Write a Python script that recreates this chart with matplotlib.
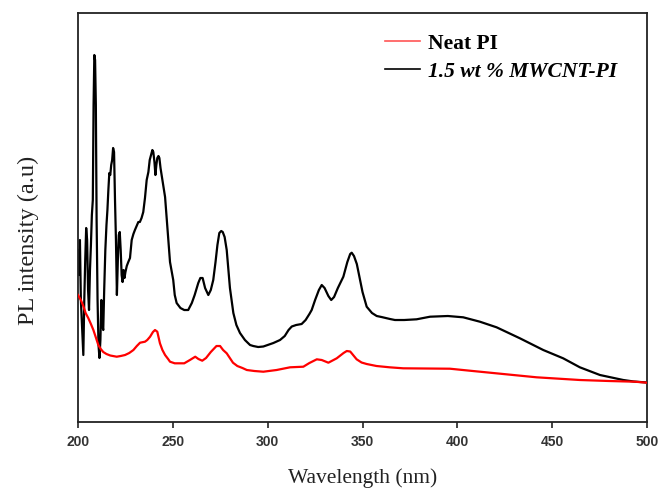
import matplotlib.pyplot as plt

# wavelength (nm) and PL intensity (a.u.)
wl_cnt = [200.0, 200.5, 201.0, 201.5, 202.2, 202.8, 203.3, 203.8, 204.3, 204.8,
          205.3, 205.8, 206.3, 206.8, 207.3, 207.8, 208.2, 208.6, 209.0, 209.4,
          209.8, 210.3, 210.8, 211.3, 211.8, 212.3, 212.8, 213.3, 213.8, 214.4,
          215.0, 215.5, 216.0, 216.5, 217.0, 217.5, 218.0, 218.5, 219.0, 219.5,
          220.0, 220.5, 221.0, 221.5, 222.0, 222.5, 223.0, 223.5, 224.0, 224.5,
          225.0, 225.7, 226.5, 227.4, 228.3, 229.2, 230.0, 230.9, 231.8, 232.6,
          233.5, 234.4, 235.3, 236.2, 237.1, 237.8, 238.5, 239.2, 239.7, 240.3,
          240.8, 241.3, 241.8, 242.4, 242.9, 243.5, 244.5, 245.9, 247.6, 248.5,
          250.2, 251.0, 252.0, 254.0, 256.0, 258.1, 260.0, 261.5, 263.4, 264.5,
          265.7, 267.0, 268.7, 270.0, 271.3, 272.5, 273.5, 274.5, 275.5, 276.3,
          277.3, 278.4, 280.1, 281.9, 283.5, 285.4, 288.0, 290.7, 292.4, 295.0,
          297.7, 300.0, 303.0, 306.5, 309.0, 311.0, 312.7, 315.0, 317.9, 320.0,
          322.0, 323.2, 325.0, 327.0, 328.5, 330.0, 332.0, 333.5, 335.0, 337.0,
          339.9, 342.0, 343.5, 344.3, 345.5, 347.0, 348.5, 350.0, 352.2, 355.0,
          357.5, 360.0, 364.5, 367.1, 372.0, 378.5, 385.6, 395.0, 403.1, 411.9,
          420.7, 433.0, 445.3, 455.8, 464.6, 475.2, 487.5, 493.0, 500.0]
pl_cnt = [172, 147, 182, 122, 92, 67, 122, 162, 194, 182,
          132, 112, 152, 177, 207, 222, 317, 367, 362, 317,
          202, 122, 77, 64, 82, 122, 97, 92, 132, 172,
          197, 212, 232, 249, 247, 257, 262, 274, 270, 222,
          182, 127, 162, 187, 190, 172, 147, 140, 152, 144,
          150, 156, 160, 164, 182, 188, 192, 196, 200, 200,
          204, 210, 224, 242, 250, 262, 267, 272, 270, 260,
          247, 257, 264, 266, 264, 254, 242, 225, 182, 160,
          142, 127, 119, 114, 112, 112, 119, 127, 139, 144,
          144, 134, 127, 132, 142, 160, 177, 189, 191, 190,
          185, 172, 134, 109, 97, 89, 82, 77, 76, 75,
          75.5, 77, 79, 82, 86, 92, 95.5, 97, 98, 102,
          108, 112, 122, 132, 137, 134, 126, 122, 125, 134,
          145.3, 160, 168, 169.3, 166, 158, 144, 130, 115.3, 109,
          106, 105, 103, 102, 102, 102.7, 105.3, 106, 104.7, 100.3,
          94.7, 83.7, 72, 63.7, 54.7, 47, 42, 40.5, 39.5]

wl_pi = [200.0, 201.5, 202.8, 204.0, 205.4, 206.8, 208.1, 209.5, 210.7, 212.0,
         213.3, 215.0, 217.0, 220.4, 222.5, 224.8, 227.0, 229.2, 231.0, 232.7,
         235.3, 236.5, 238.0, 239.5, 240.6, 241.8, 243.2, 244.5, 245.9, 247.5,
         248.5, 251.0, 256.0, 259.0, 261.8, 263.5, 265.5, 267.5, 270.0, 273.0,
         274.9, 276.5, 278.4, 281.7, 284.0, 286.7, 289.0, 293.0, 297.7, 304.7,
         311.8, 318.8, 322.0, 325.9, 328.5, 332.0, 336.4, 340.0, 341.7, 343.5,
         344.3, 346.9, 349.5, 352.2, 357.4, 364.3, 371.5, 396.1, 406.6, 424.2,
         441.8, 464.6, 480.0, 493.6, 500.0]
pl_pi = [127, 122, 116, 109, 104, 98, 92, 84, 77, 73,
         70, 68, 66.5, 65.3, 66, 67, 69, 72, 76, 79.3,
         80.3, 82, 85.3, 90, 92, 90.3, 78.7, 72, 67, 63,
         60.3, 58.7, 58.7, 62, 65.3, 63, 61.3, 64, 70, 76,
         76, 72, 68.7, 59.3, 56, 54, 52, 51, 50.3, 52,
         54.7, 55.3, 59, 62.7, 62, 59.3, 63.7, 69, 71, 70.5,
         68.7, 62.7, 59.5, 58, 56, 54.7, 53.7, 53.3, 51.3, 48,
         44.7, 42, 41, 40.3, 39.3]

xticks = [200, 250, 300, 350, 400, 450, 500]

fig = plt.figure(figsize=(6.64, 4.93), dpi=100)
ax = fig.add_axes([0.1175, 0.144, 0.8569, 0.8296])

l_cnt, = ax.plot(wl_cnt, pl_cnt, color='black', lw=1.6, zorder=2)
l_pi, = ax.plot(wl_pi, pl_pi, color='#ff0000', lw=1.6, zorder=3)

ax.set_xlim(200, 500)
ax.set_ylim(0, 409)
ax.set_xticks(xticks)
ax.set_yticks([])
ax.tick_params(axis='x', direction='out', length=4, width=1.2, color='#222222', pad=5)
for lab in ax.get_xticklabels():
    lab.set_fontfamily('Liberation Sans')
    lab.set_fontweight('bold')
    lab.set_fontsize(10)
    lab.set_color('#333333')
for sp in ax.spines.values():
    sp.set_linewidth(1.3)
    sp.set_color('#222222')

ax.set_xlabel('Wavelength (nm)', family='Liberation Serif', fontsize=15.5, color='#222222', labelpad=14)
ax.set_ylabel('PL intensity (a.u)', family='Liberation Serif', fontsize=17.5, color='#222222')
ax.yaxis.set_label_coords(-0.068, 0.445)

leg = ax.legend([l_pi, l_cnt], ['Neat PI', '1.5 wt % MWCNT-PI'],
                loc='upper left', bbox_to_anchor=(0.54, 0.95), frameon=False,
                borderpad=0, borderaxespad=0, handlelength=1.6, handletextpad=0.37,
                labelspacing=0.38,
                prop={'family': 'Liberation Serif', 'weight': 'bold', 'size': 15.5})
leg.get_texts()[1].set_style('italic')
leg.get_lines()[0].set_color('#ff5555')
leg.get_lines()[0].set_linewidth(1.2)
leg.get_lines()[1].set_linewidth(1.2)

fig.savefig('out.png', dpi=100)
